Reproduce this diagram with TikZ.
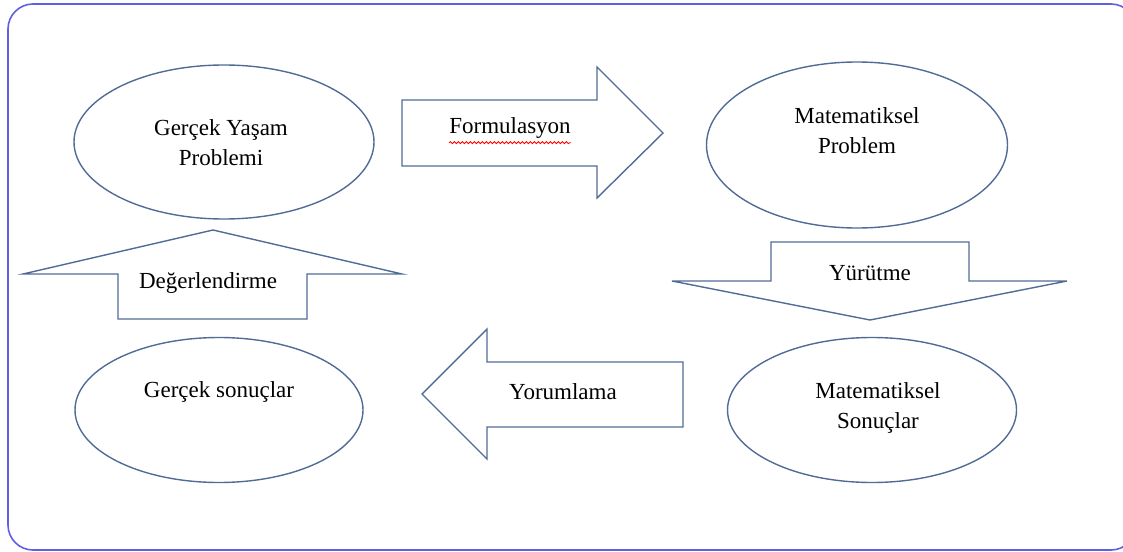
\documentclass[tikz,border=0pt]{standalone}
\usepackage{fontspec}
\setmainfont{Liberation Serif}
\usetikzlibrary{shapes.geometric,decorations.pathmorphing}
\definecolor{framec}{RGB}{95,95,225}
\definecolor{shapec}{RGB}{80,108,150}
\tikzset{
  oval/.style={draw=shapec, line width=1.4pt, ellipse, inner sep=0pt},
  blockarrow/.style={draw=shapec, line width=1.4pt, line join=miter},
  lbl/.style={font=\fontsize{23}{30}\selectfont, align=center, inner sep=0pt, text=black}
}
\begin{document}
\begin{tikzpicture}[x=1pt,y=-1pt]
\useasboundingbox (0,0) rectangle (1123,551);
% outer frame
\draw[framec, line width=1.6pt, rounded corners=25pt] (8,4) rectangle (1136,550);

% ellipses
\node[oval, minimum width=300pt, minimum height=154pt] (e1) at (224,142) {};
\node[oval, minimum width=301pt, minimum height=166pt] (e2) at (857,145) {};
\node[oval, minimum width=288pt, minimum height=145pt] (e3) at (219,410) {};
\node[oval, minimum width=289pt, minimum height=145pt] (e4) at (872,410) {};

\node[lbl] (t1) at (221,143) {Gerçek Yaşam\\Problemi};
\node[lbl] (t2) at (857,131) {Matematiksel\\Problem};
\node[lbl] (t3) at (219,392) {Gerçek sonuçlar};
\node[lbl] (t4) at (878,408) {Matematiksel\\Sonuçlar};

% right arrow (Formulasyon)
\draw[blockarrow] (402,100) -- (597,100) -- (597,67) -- (663,133) -- (597,198) -- (597,166) -- (402,166) -- cycle;
\node[lbl] (a1) at (510,128) {Formulasyon};
\draw[red, line width=0.8pt, decorate, decoration={snake, amplitude=1pt, segment length=4pt}] ([yshift=-4pt]a1.south west) -- ([yshift=-4pt]a1.south east);

% down arrow (Yürütme)
\draw[blockarrow] (771,242) -- (969,242) -- (969,281) -- (1067,281) -- (870,320) -- (672,281) -- (771,281) -- cycle;
\node[lbl] (a2) at (870,273) {Yürütme};

% left arrow (Yorumlama)
\draw[blockarrow] (683,362) -- (487,362) -- (487,329) -- (422,394) -- (487,459) -- (487,427) -- (683,427) -- cycle;
\node[lbl] (a3) at (563,392) {Yorumlama};

% up arrow (Değerlendirme)
\draw[blockarrow] (118,319) -- (118,274) -- (23,274) -- (213,230) -- (402,274) -- (307,274) -- (307,319) -- cycle;
\node[lbl] (a4) at (208,283) {Değerlendirme};
\end{tikzpicture}
\end{document}
